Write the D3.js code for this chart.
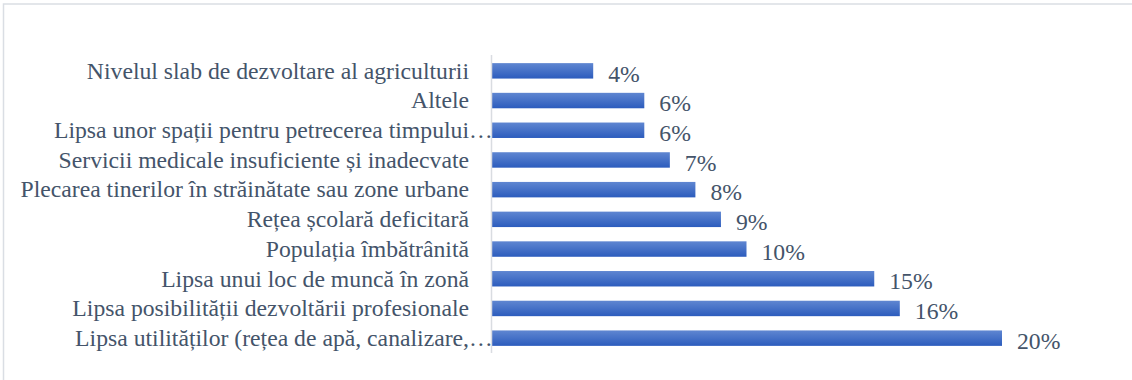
<!DOCTYPE html>
<html>
<head>
<meta charset="utf-8">
<script src="https://cdn.jsdelivr.net/npm/d3@7"></script>
<style>
  html, body { margin: 0; padding: 0; background: #fff; }
  svg { display: block; }
</style>
</head>
<body>
<svg id="fig" width="1132" height="380"></svg>
<script>
// Categories listed top to bottom, with percentage shares
const categories = [
  "Nivelul slab de dezvoltare al agriculturii",
  "Altele",
  "Lipsa unor spații pentru petrecerea timpului",
  "Servicii medicale insuficiente și inadecvate",
  "Plecarea tinerilor în străinătate sau zone urbane",
  "Rețea școlară deficitară",
  "Populația îmbătrânită",
  "Lipsa unui loc de muncă în zonă",
  "Lipsa posibilității dezvoltării profesionale",
  "Lipsa utilităților (rețea de apă, canalizare,"
];
const truncated = [false, false, true, false, false, false, false, false, false, true];
const values = [4, 6, 6, 7, 8, 9, 10, 15, 16, 20];

const root = d3.select("#fig");
const W = 1132, H = 380;
const textColor = "#44546a";
const serifFamily = "Liberation Serif, Times New Roman, Times, serif";
const fontSize = 23.7;

// Chart frame
root.append("rect")
  .attr("x", 3.5).attr("y", 4)
  .attr("width", W + 10).attr("height", H + 10)
  .attr("fill", "none")
  .attr("stroke", "#dadee4")
  .attr("stroke-width", 1.5);

// Bar gradient (light top, darker bottom)
const grad = root.append("defs").append("linearGradient")
  .attr("id", "barGrad").attr("x1", 0).attr("y1", 0).attr("x2", 0).attr("y2", 1);
grad.append("stop").attr("offset", "0%").attr("stop-color", "#5f86d1");
grad.append("stop").attr("offset", "100%").attr("stop-color", "#2c5cbd");

const x0 = 491;
const xScale = d3.scaleLinear().domain([0, 20]).range([x0, 1002]);
const yScale = d3.scaleBand()
  .domain(categories)
  .range([56, 353])
  .paddingInner(0.48)
  .paddingOuter(0.24);

// Bars
root.append("g").selectAll("rect")
  .data(categories)
  .join("rect")
  .attr("x", xScale(0))
  .attr("y", d => yScale(d))
  .attr("width", (d, i) => xScale(values[i]) - xScale(0))
  .attr("height", yScale.bandwidth())
  .attr("fill", "url(#barGrad)");

// Vertical category axis line
root.append("line")
  .attr("x1", x0 + 0.5).attr("x2", x0 + 0.5)
  .attr("y1", 55).attr("y2", 353)
  .attr("stroke", "#d9dce1")
  .attr("stroke-width", 1.5);

function addText(xPos, yPos, dy, anchor, str) {
  return root.append("text")
    .attr("x", xPos)
    .attr("y", yPos)
    .attr("dy", dy)
    .attr("text-anchor", anchor)
    .attr("fill", textColor)
    .attr("font-family", serifFamily)
    .attr("font-size", fontSize)
    .style("font-family", serifFamily)
    .style("font-size", fontSize + "px")
    .text(str);
}

// Category labels (long ones shortened with an ellipsis)
categories.forEach((c, i) => {
  const cy = yScale(c) + yScale.bandwidth() / 2;
  addText(469, cy, "0.33em", "end", c);
  if (truncated[i]) addText(469, cy, "0.33em", "start", "…");
});

// Value labels
categories.forEach((c, i) => {
  const cy = yScale(c) + yScale.bandwidth() / 2;
  addText(xScale(values[i]) + 15, cy, "0.45em", "start", values[i] + "%");
});
</script>
</body>
</html>
